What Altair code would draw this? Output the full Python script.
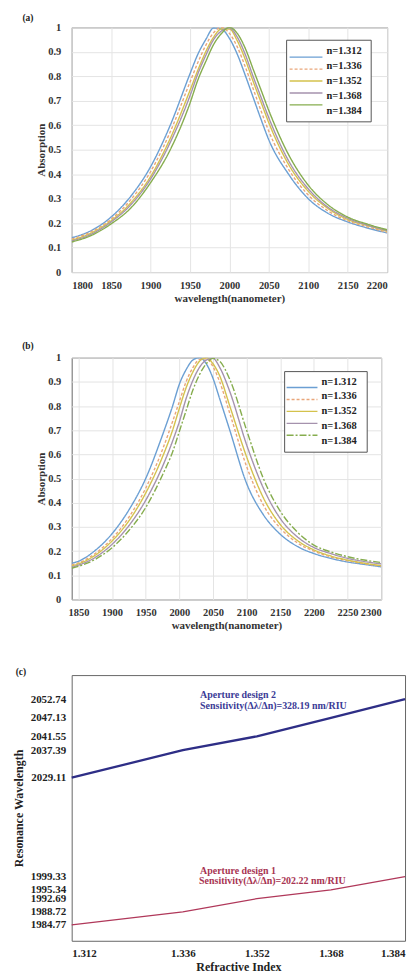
import altair as alt
import pandas as pd

FONT = "Liberation Serif, Times New Roman, DejaVu Serif, serif"

# ---------------- data ----------------
names = ["n=1.312", "n=1.336", "n=1.352", "n=1.368", "n=1.384"]
line_colors = ["#6b9fd3", "#e9a67a", "#d4c24c", "#a592ad", "#86ad4e"]
dash_a = [[1, 0], [3, 2], [1, 0], [1, 0], [1, 0]]
dash_b = [[1, 0], [3, 2], [1, 0], [1, 0], [7, 2, 2, 2]]

y_ticks = [0, 0.1, 0.2, 0.3, 0.4, 0.5, 0.6, 0.7, 0.8, 0.9, 1]
x_ticks_a = [1800, 1850, 1900, 1950, 2000, 2050, 2100, 2150, 2200]
x_ticks_b = [1850, 1900, 1950, 2000, 2050, 2100, 2150, 2200, 2250, 2300]

# panel (a)
wl_a = [1800, 1825, 1850, 1875, 1900, 1925, 1950, 1960, 1970, 1980, 1990, 2000,
        2010, 2020, 2030, 2040, 2050, 2075, 2100, 2125, 2150, 2175, 2200]
a_1312 = [0.140, 0.170, 0.225, 0.310, 0.430, 0.600, 0.810, 0.890, 0.950, 0.997, 0.993, 0.955,
          0.890, 0.805, 0.715, 0.625, 0.540, 0.400, 0.300, 0.240, 0.205, 0.180, 0.160]
a_1336 = [0.135, 0.165, 0.216, 0.296, 0.410, 0.573, 0.776, 0.856, 0.926, 0.978, 1.000, 0.975,
          0.920, 0.840, 0.750, 0.660, 0.575, 0.420, 0.315, 0.250, 0.210, 0.185, 0.163]
a_1352 = [0.130, 0.160, 0.210, 0.283, 0.390, 0.546, 0.742, 0.825, 0.900, 0.960, 0.993, 0.993,
          0.945, 0.870, 0.780, 0.695, 0.610, 0.440, 0.330, 0.260, 0.215, 0.190, 0.167]
a_1368 = [0.127, 0.155, 0.205, 0.275, 0.380, 0.530, 0.720, 0.810, 0.885, 0.950, 0.985, 0.997,
          0.960, 0.890, 0.800, 0.715, 0.630, 0.455, 0.340, 0.265, 0.220, 0.192, 0.170]
a_1384 = [0.123, 0.150, 0.197, 0.262, 0.365, 0.500, 0.690, 0.785, 0.860, 0.930, 0.975, 1.000,
          0.975, 0.915, 0.830, 0.745, 0.660, 0.480, 0.355, 0.275, 0.225, 0.196, 0.173]

# panel (b)
wl_b = [1840, 1850, 1875, 1900, 1925, 1950, 1975, 1990, 2000, 2010, 2020, 2030, 2040,
        2050, 2060, 2075, 2100, 2125, 2150, 2175, 2200, 2225, 2250, 2275, 2300]
b_1312 = [0.150, 0.158, 0.203, 0.272, 0.370, 0.500, 0.680, 0.800, 0.890, 0.950, 0.990, 1.000, 0.975,
          0.915, 0.830, 0.700, 0.480, 0.350, 0.270, 0.220, 0.190, 0.170, 0.155, 0.145, 0.135]
b_1336 = [0.143, 0.151, 0.190, 0.252, 0.340, 0.460, 0.620, 0.736, 0.818, 0.900, 0.958, 0.992, 0.995,
          0.963, 0.900, 0.770, 0.550, 0.390, 0.295, 0.235, 0.200, 0.176, 0.160, 0.148, 0.138]
b_1352 = [0.139, 0.147, 0.183, 0.242, 0.325, 0.440, 0.590, 0.700, 0.790, 0.875, 0.940, 0.985, 1.000,
          0.975, 0.925, 0.800, 0.590, 0.420, 0.310, 0.245, 0.205, 0.180, 0.163, 0.150, 0.140]
b_1368 = [0.134, 0.142, 0.174, 0.228, 0.305, 0.410, 0.550, 0.655, 0.735, 0.830, 0.905, 0.960, 0.990,
          0.997, 0.960, 0.860, 0.640, 0.460, 0.335, 0.260, 0.215, 0.190, 0.170, 0.157, 0.147]
b_1384 = [0.129, 0.137, 0.166, 0.214, 0.285, 0.380, 0.515, 0.610, 0.695, 0.780, 0.865, 0.930, 0.975,
          0.997, 0.985, 0.910, 0.700, 0.500, 0.365, 0.280, 0.225, 0.197, 0.177, 0.163, 0.153]

# panel (c)
ri = [1.312, 1.336, 1.352, 1.368, 1.384]
design1 = [1984.77, 1988.72, 1992.69, 1995.34, 1999.33]
design2 = [2029.11, 2037.39, 2041.55, 2047.13, 2052.74]

one = pd.DataFrame({"k": [0]})
LEFT = -63  # left bound of every panel, relative to its plot area


def axis_style(**kw):
    base = dict(ticks=False, domain=False, labelFont=FONT, labelFontWeight="bold",
                labelColor="#333", titleFont=FONT, titleFontWeight="bold", titleColor="#333",
                labelOverlap=False)
    base.update(kw)
    return alt.Axis(**base)


def spectrum_panel(wl, series, xdom, xticks, w, h, dashes, tag, tag_xy, box, seg, txt_x, bounds):
    rows = []
    for nm, vals in zip(names, series):
        for x, v in zip(wl, vals):
            rows.append({"wl": x, "A": v, "n": nm})
    df = pd.DataFrame(rows)
    color = alt.Color("n:N", scale=alt.Scale(domain=names, range=line_colors), legend=None)
    dash = alt.StrokeDash("n:N", scale=alt.Scale(domain=names, range=dashes), legend=None)

    lines = alt.Chart(df).mark_line(strokeWidth=1.4, interpolate="monotone", clip=True).encode(
        x=alt.X("wl:Q", scale=alt.Scale(domain=xdom, nice=False, zero=False),
                axis=axis_style(values=xticks, format="d", title="wavelength(nanometer)",
                                grid=True, gridColor="#e4e4e4", labelFontSize=10.5,
                                labelPadding=8, titleFontSize=11, titlePadding=2)),
        y=alt.Y("A:Q", scale=alt.Scale(domain=[0, 1], nice=False),
                axis=axis_style(values=y_ticks, format="~g", title="Absorption",
                                grid=True, gridColor="#e4e4e4", labelFontSize=10.5,
                                labelPadding=11, titleFontSize=11, titlePadding=1)),
        color=color,
        strokeDash=dash,
    )

    leg_df = pd.DataFrame({"n": names})
    leg_y = alt.Y("n:N", scale=alt.Scale(domain=names, range=[24, 84], padding=0), axis=None)

    frame = alt.Chart(one).mark_rect(fill="white", stroke="#555", strokeWidth=1).encode(
        x=alt.value(box[0]), x2=alt.value(box[1]), y=alt.value(box[2]), y2=alt.value(box[3]))
    leg_lines = alt.Chart(leg_df).mark_rule(strokeWidth=1.4).encode(
        x=alt.value(seg[0]), x2=alt.value(seg[1]), y=leg_y, color=color, strokeDash=dash)
    leg_text = alt.Chart(leg_df).mark_text(
        align="left", baseline="middle", font=FONT, fontSize=10.5, fontWeight="bold",
        color="#222").encode(x=alt.value(txt_x), y=leg_y, text="n:N")

    label = alt.Chart(one).mark_text(font=FONT, fontSize=9.5, fontWeight="bold",
                                     color="#222").encode(
        x=alt.value(tag_xy[0]), y=alt.value(tag_xy[1]), text=alt.value(tag))
    bound = alt.Chart(one).mark_rule(color="white", strokeWidth=1).encode(
        x=alt.value(LEFT), y=alt.value(bounds[0]), y2=alt.value(bounds[1]))

    return alt.layer(lines, frame, leg_lines, leg_text, label, bound).resolve_scale(
        y="independent").properties(width=w, height=h)


pa = spectrum_panel(wl_a, [a_1312, a_1336, a_1352, a_1368, a_1384], [1800, 2200], x_ticks_a,
                    317, 246, dash_a, "(a)", (-44, -9), (216, 301, 13, 95), (219, 252), 256,
                    (-16, 246 + 36))
pb = spectrum_panel(wl_b, [b_1312, b_1336, b_1352, b_1368, b_1384], [1840, 2300], x_ticks_b,
                    311, 243, dash_b, "(b)", (-44, -12), (214, 297, 14, 95), (216, 247), 251,
                    (-48, 243 + 36))

# panel (c)
rows_c = []
for nm, vals in [("Aperture design 2", design2), ("Aperture design 1", design1)]:
    for x, v in zip(ri, vals):
        rows_c.append({"ri": x, "wl": v, "design": nm})
df_c = pd.DataFrame(rows_c)
WC, HC = 335, 267

lines_c = alt.Chart(df_c).mark_line().encode(
    x=alt.X("ri:Q", scale=alt.Scale(domain=[1.312, 1.384], nice=False, zero=False),
            axis=axis_style(values=ri, format=".3f", title="Refractive Index",
                            grid=False, labelFontSize=11, labelColor="#222", labelPadding=7,
                            titleFontSize=12, titleColor="#222", titlePadding=3)),
    y=alt.Y("wl:Q", scale=alt.Scale(domain=[1980, 2060], nice=False, zero=False),
            axis=axis_style(values=sorted(design1 + design2), format=".2f",
                            title="Resonance Wavelength", grid=False, labelFontSize=11,
                            labelColor="#222", labelPadding=6, titleFontSize=12,
                            titleColor="#222", titlePadding=5)),
    color=alt.Color("design:N", scale=alt.Scale(domain=["Aperture design 2", "Aperture design 1"],
                                                range=["#2e2e86", "#b0385a"]), legend=None),
    strokeWidth=alt.StrokeWidth("design:N",
                                scale=alt.Scale(domain=["Aperture design 2", "Aperture design 1"],
                                                range=[2.3, 1.2]), legend=None),
)


def note(txt, x, y, col):
    return alt.Chart(one).mark_text(align="left", baseline="middle", font=FONT, fontSize=10,
                                    fontWeight="bold", color=col).encode(
        x=alt.value(x), y=alt.value(y), text=alt.value(txt))


notes = [
    note("Aperture design 2", 129, 20, "#3b3b96"),
    note("Sensitivity(\u0394\u03bb/\u0394n)=328.19 nm/RIU", 129, 31, "#3b3b96"),
    note("Aperture design 1", 129, 197, "#a83452"),
    note("Sensitivity(\u0394\u03bb/\u0394n)=202.22 nm/RIU", 128, 207, "#a83452"),
]
label_c = alt.Chart(one).mark_text(font=FONT, fontSize=9.5, fontWeight="bold",
                                   color="#222").encode(
    x=alt.value(-51), y=alt.value(-3), text=alt.value("(c)"))
bound_c = alt.Chart(one).mark_rule(color="white", strokeWidth=1).encode(
    x=alt.value(LEFT), y=alt.value(-38), y2=alt.value(HC))

pc = alt.layer(lines_c, *notes, label_c, bound_c).properties(width=WC, height=HC)

chart = alt.vconcat(pa, pb, pc, spacing=0).resolve_scale(
    color="independent", strokeDash="independent", strokeWidth="independent"
).properties(padding=0).configure_view(stroke="#666", strokeWidth=1)

chart.save("out.html", embed_options={"renderer": "svg", "actions": False})
